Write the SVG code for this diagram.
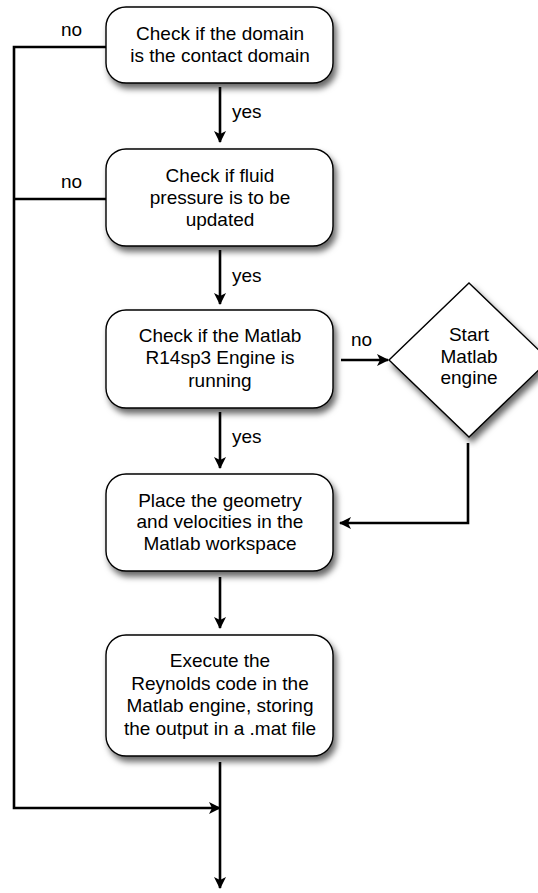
<svg xmlns="http://www.w3.org/2000/svg" width="538" height="893" viewBox="0 0 538 893">
  <style>
    .box { fill: #ffffff; stroke: #000000; stroke-width: 1.4; filter: url(#shadow); }
    .lbl { font-family: "Liberation Sans", Arial, sans-serif; font-size: 19px; fill: #000000; text-anchor: middle; }
    .tag { font-family: "Liberation Sans", Arial, sans-serif; font-size: 19px; fill: #000000; }
    .wire { fill: none; stroke: #000000; stroke-width: 2.6; }
  </style>
  <defs>
    <filter id="shadow" x="-20%" y="-20%" width="150%" height="160%">
      <feDropShadow dx="3" dy="5" stdDeviation="3" flood-color="#000000" flood-opacity="0.6"/>
    </filter>
    <marker id="arrow" viewBox="0 0 12 12" refX="11" refY="6" markerWidth="12" markerHeight="12" markerUnits="userSpaceOnUse" orient="auto">
      <path d="M0,0 L12,6 L0,12 L3,6 Z" fill="#000000"/>
    </marker>
  </defs>

  <!-- connectors -->
  <g id="connectors">
    <path class="wire" d="M220,87 V142" marker-end="url(#arrow)"/>
    <path class="wire" d="M220,250 V304" marker-end="url(#arrow)"/>
    <path class="wire" d="M220,412 V468" marker-end="url(#arrow)"/>
    <path class="wire" d="M220,577 V628" marker-end="url(#arrow)"/>
    <path class="wire" d="M220,762 V888" marker-end="url(#arrow)"/>
    <path class="wire" d="M341,360 H388" marker-end="url(#arrow)"/>
    <path class="wire" d="M468,443 V523 H340" marker-end="url(#arrow)"/>
    <path class="wire" d="M106,47 H14 V808 H220" marker-end="url(#arrow)"/>
    <path class="wire" d="M106,199 H14"/>
    <text class="tag" x="61" y="36">no</text>
    <text class="tag" x="61" y="188">no</text>
    <text class="tag" x="232" y="118">yes</text>
    <text class="tag" x="232" y="282">yes</text>
    <text class="tag" x="232" y="443">yes</text>
    <text class="tag" x="351" y="346">no</text>
  </g>

  <g id="check-domain">
    <rect class="box" x="106" y="7" width="227" height="76" rx="20"/>
    <text class="lbl" x="220" y="40">Check if the domain</text>
    <text class="lbl" x="220" y="62">is the contact domain</text>
  </g>

  <g id="check-pressure">
    <rect class="box" x="106" y="149" width="227" height="97" rx="20"/>
    <text class="lbl" x="220" y="182">Check if fluid</text>
    <text class="lbl" x="220" y="204">pressure is to be</text>
    <text class="lbl" x="220" y="226">updated</text>
  </g>

  <g id="check-engine">
    <rect class="box" x="106" y="310" width="227" height="98" rx="20"/>
    <text class="lbl" x="220" y="342">Check if the Matlab</text>
    <text class="lbl" x="220" y="364">R14sp3 Engine is</text>
    <text class="lbl" x="220" y="387">running</text>
  </g>

  <g id="start-engine">
    <polygon class="box" points="469,283 549,360 469,437 389,360"/>
    <text class="lbl" x="469" y="341">Start</text>
    <text class="lbl" x="469" y="363">Matlab</text>
    <text class="lbl" x="469" y="384">engine</text>
  </g>

  <g id="place-geometry">
    <rect class="box" x="106" y="474" width="227" height="97" rx="20"/>
    <text class="lbl" x="220" y="507">Place the geometry</text>
    <text class="lbl" x="220" y="528">and velocities in the</text>
    <text class="lbl" x="220" y="550">Matlab workspace</text>
  </g>

  <g id="execute-reynolds">
    <rect class="box" x="106" y="635" width="227" height="121" rx="20"/>
    <text class="lbl" x="220" y="667">Execute the</text>
    <text class="lbl" x="220" y="690">Reynolds code in the</text>
    <text class="lbl" x="220" y="712">Matlab engine, storing</text>
    <text class="lbl" x="220" y="735">the output in a .mat file</text>
  </g>
</svg>
